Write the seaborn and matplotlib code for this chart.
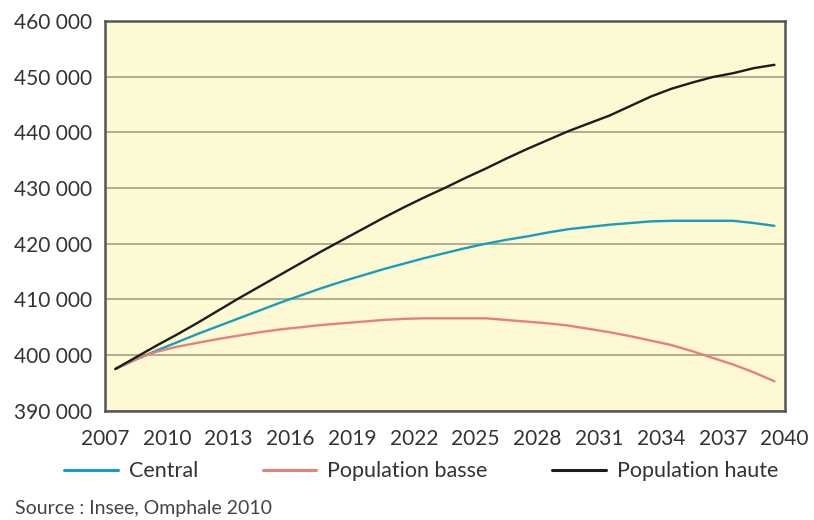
import numpy as np
import pandas as pd
import seaborn as sns
import matplotlib.pyplot as plt
from matplotlib.ticker import FuncFormatter, MultipleLocator

years = list(range(2007, 2040))

central = [397.5, 399.2, 400.8, 402.3, 403.8, 405.2, 406.6, 408.0, 409.4, 410.7,
           412.0, 413.2, 414.3, 415.4, 416.4, 417.4, 418.3, 419.2, 420.0, 420.7,
           421.3, 422.0, 422.6, 423.0, 423.4, 423.7, 424.0, 424.1, 424.1, 424.1,
           424.1, 423.7, 423.2]

basse = [397.5, 399.3, 400.6, 401.5, 402.2, 402.9, 403.5, 404.1, 404.6, 405.0,
         405.4, 405.7, 406.0, 406.3, 406.5, 406.6, 406.6, 406.6, 406.6, 406.3,
         406.0, 405.7, 405.3, 404.7, 404.1, 403.4, 402.6, 401.8, 400.7, 399.5,
         398.3, 396.9, 395.3]

haute = [397.5, 399.6, 401.7, 403.7, 405.8, 408.0, 410.2, 412.3, 414.4, 416.5,
         418.6, 420.6, 422.6, 424.6, 426.5, 428.3, 430.0, 431.8, 433.5, 435.3,
         437.0, 438.6, 440.2, 441.6, 443.0, 444.7, 446.4, 447.8, 448.9, 449.9,
         450.6, 451.5, 452.1]

series = ["Central", "Population basse", "Population haute"]
colors = {"Central": "#1a9cc0", "Population basse": "#e8807a", "Population haute": "#1c1c1c"}

df = pd.DataFrame({
    "annee": years * 3,
    "pop": [v * 1000 for v in central + basse + haute],
    "scenario": [s for s in series for _ in years],
})
# points sit in the middle of each year's slot
df["x"] = df["annee"] + 0.5

sns.set_style("white")
plt.rcParams["font.family"] = ["Lato", "DejaVu Sans"]

fig = plt.figure(figsize=(8.14, 5.2), dpi=100)
ax = fig.add_axes([0.129, 0.21, 0.835, 0.75])
ax.set_facecolor("#fdf9d2")

sns.lineplot(data=df, x="x", y="pop", hue="scenario", palette=colors,
             linewidth=1.7, ax=ax, legend=False)

ax.set_xlim(2007, 2040)
ax.set_ylim(390000, 460000)
ax.xaxis.set_major_locator(MultipleLocator(3))
ax.xaxis.set_minor_locator(MultipleLocator(1))
ax.yaxis.set_major_locator(MultipleLocator(10000))
ax.yaxis.set_major_formatter(FuncFormatter(lambda v, p: f"{int(v):,}".replace(",", " ")))
ax.grid(axis="y", color="#a9a88a", linewidth=1.3)
ax.set_axisbelow(True)
for s in ax.spines.values():
    s.set_color("#555555")
    s.set_linewidth(1.8)
ax.tick_params(axis="both", which="both", direction="out", length=4, width=1,
               color="#666666", labelsize=15, labelcolor="#333333")
ax.tick_params(axis="x", pad=9)
ax.tick_params(axis="y", pad=5)
ax.set_xlabel("")
ax.set_ylabel("")

handles = [plt.Line2D([], [], color=colors[s], linewidth=2.2) for s in series]
fig.legend(handles, series, loc="center left", bbox_to_anchor=(0.055, 0.094), ncol=3,
           frameon=False, fontsize=15.5, handlelength=2.5, columnspacing=3.0,
           handletextpad=0.5, labelcolor="#333333")

fig.text(0.018, 0.012, "Source : Insee, Omphale 2010", fontsize=14, color="#444444")

fig.savefig("out.png", dpi=100)
